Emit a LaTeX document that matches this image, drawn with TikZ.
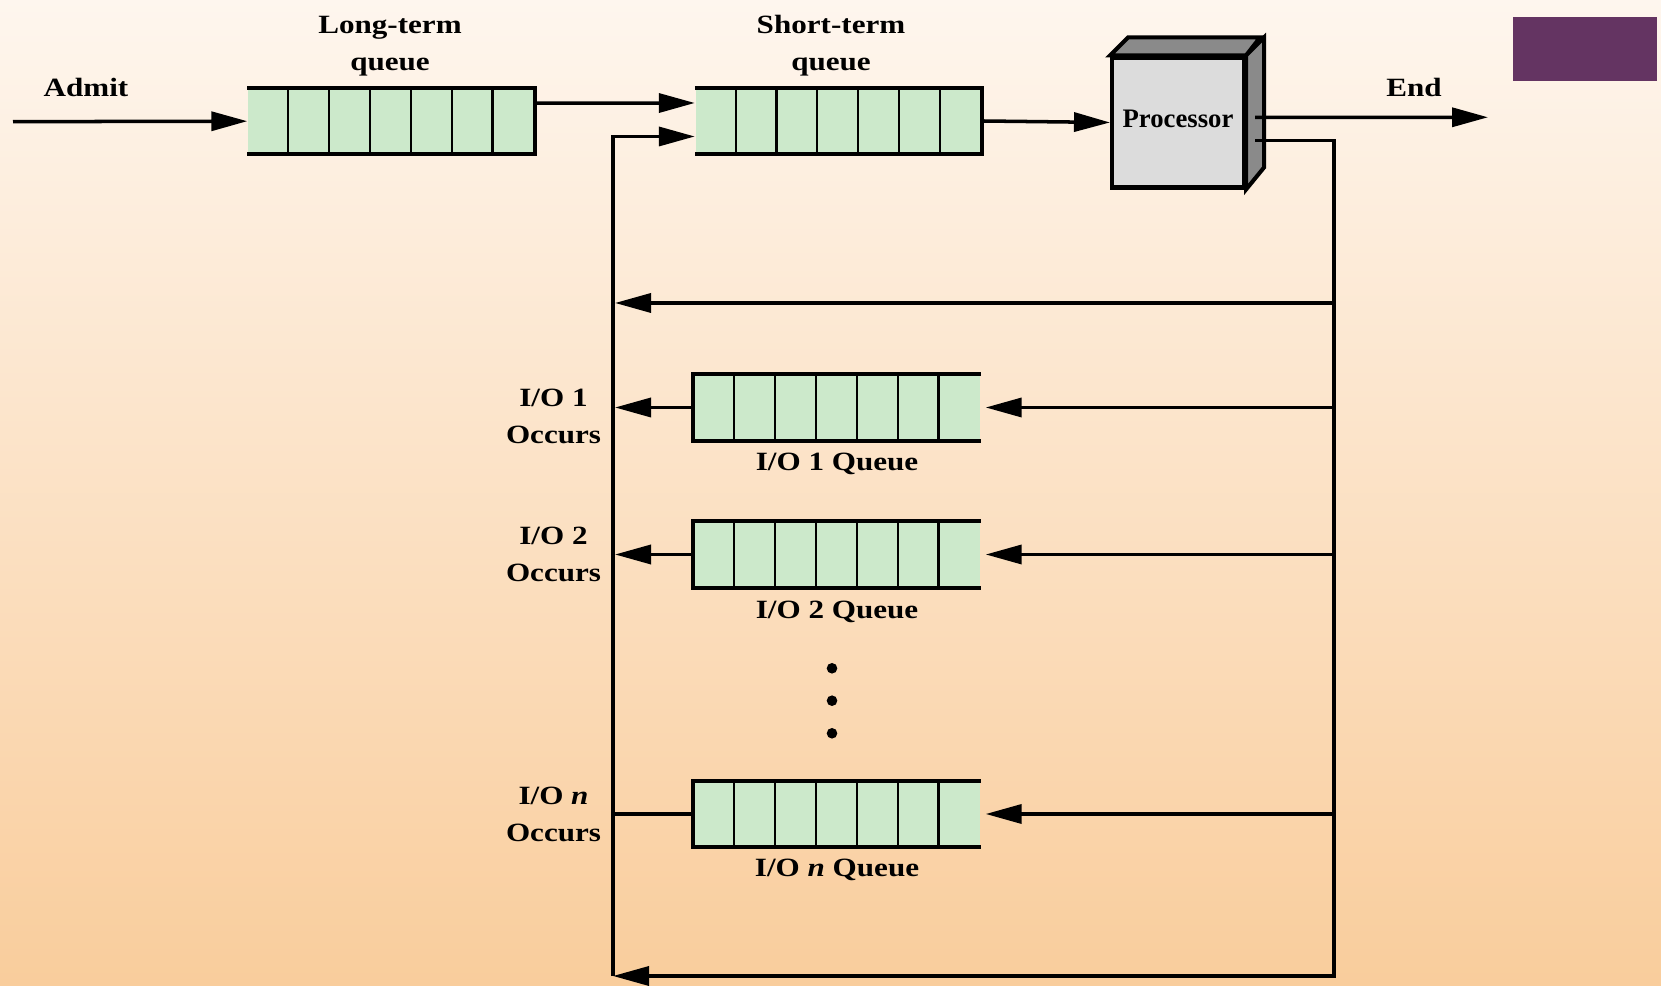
\documentclass[tikz,border=0pt]{standalone}
\usepackage{fontspec}
\setmainfont[FakeStretch=1.18]{Liberation Serif}
\newfontfamily\procfont{Liberation Serif}
\usepackage{xcolor}
\usepackage{tikz}
\usetikzlibrary{arrows.meta}

\definecolor{bgtop}{HTML}{FEF6EE}
\definecolor{bgbot}{HTML}{F9CD9C}
\definecolor{qfill}{HTML}{CCE9CB}
\definecolor{procfront}{HTML}{DCDCDC}
\definecolor{procside}{HTML}{8A8A8A}
\definecolor{banner}{HTML}{643462}

\tikzset{
	queue/.style={rectangle, fill=qfill, inner sep=0pt, minimum width=2.86cm, minimum height=0.65cm},
	qline/.style={line width=1.15pt},
	cellline/.style={line width=0.6pt},
	wire/.style={line width=1pt},
	flow/.style={wire, -{Triangle[length=3.6mm,width=1.9mm]}},
	lbl/.style={font=\fontsize{7.5}{10.6}\selectfont\bfseries, align=center, inner sep=0pt, anchor=base},
	proc/.style={rectangle, draw, qline, fill=procfront, minimum width=1.32cm, minimum height=1.30cm, inner sep=0pt, text depth=0.8mm, font=\procfont\fontsize{7.6}{9}\selectfont\bfseries}
}

\begin{document}
\begin{tikzpicture}
		\useasboundingbox (0,0) rectangle (16.61,9.85);
		\shade[top color=bgtop, bottom color=bgbot] (0,0) rectangle (16.61,9.85);
		\fill[banner] (15.13,9.04) rectangle (16.57,9.68);
		%
		\node[queue] (ltq) at (3.91,8.638) {};
		\node[queue] (stq) at (8.385,8.64) {};
		\node[queue] (io1) at (8.37,5.775) {};
		\node[queue] (io2) at (8.37,4.305) {};
		\node[queue] (ion) at (8.37,1.71) {};
		\foreach \q in {ltq,stq,io1,io2,ion}
			\foreach \i in {1,...,6}
				\draw[cellline] ([xshift=\i*0.4086cm]\q.south west) -- ([xshift=\i*0.4086cm]\q.north west);
		\foreach \q in {ltq,stq}
			\draw[qline] (\q.north west) -- (\q.north east) -- (\q.south east) -- (\q.south west);
		\foreach \q in {io1,io2,ion}
			\draw[qline] (\q.north east) -- (\q.north west) -- (\q.south west) -- (\q.south east);
		%
		\node[proc] (proc) at (11.78,8.625) {Processor};
		\draw[qline, fill=procside] (proc.north west) -- ++(0.18,0.18) -- ++(1.32,0) -- (proc.north east) -- cycle;
		\draw[qline, fill=procside] (proc.north east) -- ++(0.18,0.18) -- ++(0,-1.30) -- (proc.south east) -- cycle;
		%
		\node[lbl] (admit) at (0.86,8.883) {Admit};
		\node[lbl] (ltlbl) at (3.90,9.143) {Long-term\\queue};
		\node[lbl] (stlbl) at (8.31,9.143) {Short-term\\queue};
		\node[lbl] (endlbl) at (14.14,8.883) {End};
		\node[lbl] (io1occ) at (5.535,5.417) {I/O 1\\Occurs};
		\node[lbl] (io2occ) at (5.535,4.033) {I/O 2\\Occurs};
		\node[lbl] (ionocc) at (5.535,1.433) {I/O \textit{n}\\Occurs};
		\node[lbl] (io1lbl) at (8.37,5.14) {I/O 1 Queue};
		\node[lbl] (io2lbl) at (8.37,3.665) {I/O 2 Queue};
		\node[lbl] (ionlbl) at (8.37,1.083) {I/O \textit{n} Queue};
		\foreach \y in {3.167,2.843,2.517}
			\fill (8.32,\y) circle (0.53mm);
		%
		\coordinate (admitin) at (0.13,8.633);
		\coordinate (endout) at (14.88,8.677);
		\coordinate (rbus) at (13.34,0.09);
		\coordinate (lbus) at (6.13,0.09);
		\coordinate (wait) at (13.34,6.82);
		%
		\draw[flow] (admitin) -- (ltq.west);
		\draw[flow] ([yshift=1.8mm]ltq.east) -- ([yshift=1.8mm]stq.west);
		\draw[flow] (stq.east) -- (proc.west);
		\draw[flow] ([shift={(0.09,0.052)}]proc.east) -- (endout);
		\draw[flow] ([shift={(0.09,-0.182)}]proc.east) -| (rbus) -- (lbus);
		\draw[flow] (lbus) |- ([yshift=-1.55mm]stq.west);
		\draw[flow] (wait) -- ([xshift=0.2mm]wait -| lbus);
		\foreach \q in {io1,io2,ion}
			\draw[flow] (rbus |- \q.east) -- ([xshift=0.5mm]\q.east);
		\draw[flow] (io1.west) -- ([xshift=0.2mm]io1.west -| lbus);
		\draw[flow] (io2.west) -- ([xshift=0.2mm]io2.west -| lbus);
		\draw[wire] (ion.west) -- (ion.west -| lbus);
\end{tikzpicture}
\end{document}
